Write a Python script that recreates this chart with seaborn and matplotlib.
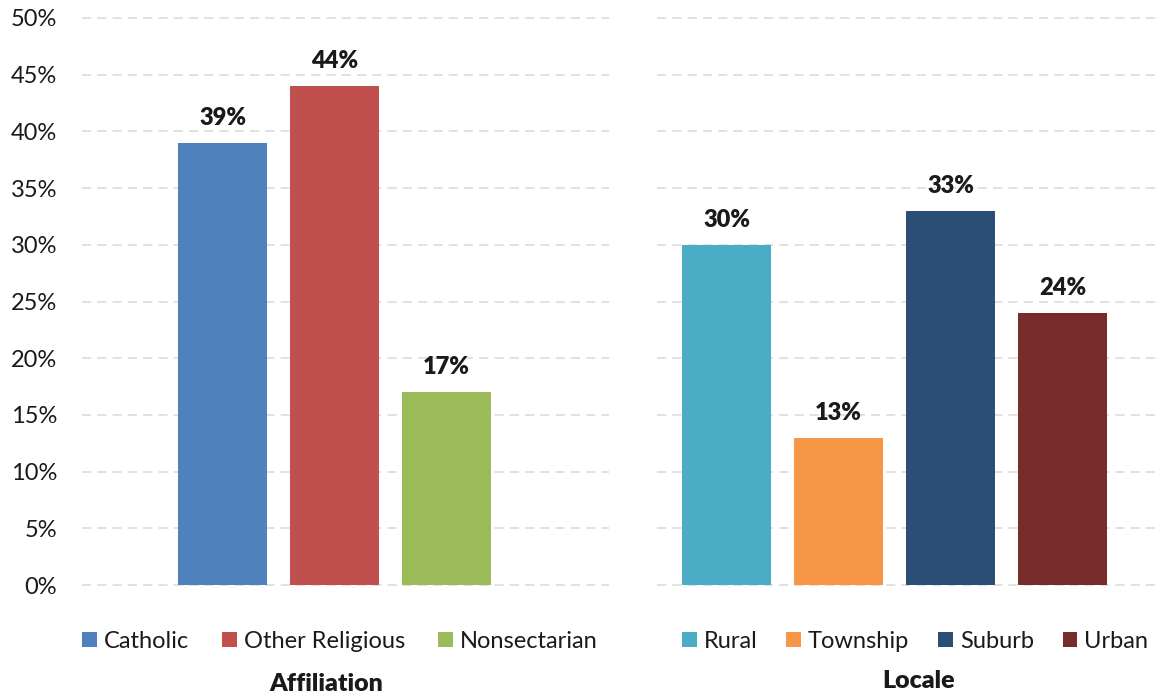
import matplotlib
matplotlib.use("Agg")
import matplotlib.pyplot as plt
from matplotlib.patches import Patch
import seaborn as sns
import pandas as pd

# Share of schools by affiliation and by locale (percent)
affiliation_labels = ["Catholic", "Other Religious", "Nonsectarian"]
affiliation_values = [39, 44, 17]
affiliation_colors = ["#4F81BD", "#C0504D", "#9BBB59"]

locale_labels = ["Rural", "Township", "Suburb", "Urban"]
locale_values = [30, 13, 33, 24]
locale_colors = ["#4BACC6", "#F79646", "#2C4D75", "#772C2A"]

y_ticks = [0, 5, 10, 15, 20, 25, 30, 35, 40, 45, 50]

sns.set_theme(style="white")
plt.rcParams["font.family"] = ["Lato", "DejaVu Sans"]
plt.rcParams["text.color"] = "#1a1a1a"

W, H = 1158, 695
fig = plt.figure(figsize=(W / 100, H / 100), dpi=100)


def px_axes(left, right, top, bottom):
    return fig.add_axes([left / W, 1 - bottom / H, (right - left) / W, (bottom - top) / H])


ax_left = px_axes(82, 609, 18, 585)
ax_right = px_axes(657, 1158, 18, 585)

slot = 112.0  # pixel distance between bar centres
bar_w = 89 / slot


def draw_panel(ax, labels, values, colors, first_center_px, left_px, right_px):
    df = pd.DataFrame({"category": labels, "share": values})
    sns.barplot(data=df, x="category", y="share", hue="category",
                palette=colors, saturation=1, width=bar_w, legend=False,
                order=labels, hue_order=labels, ax=ax, zorder=3,
                edgecolor="none", linewidth=0)
    ax.set_xlim(-(first_center_px - left_px) / slot, (right_px - first_center_px) / slot)
    ax.set_ylim(0, 50)
    ax.set_yticks(y_ticks)
    ax.grid(axis="y", color="#D9D9D9", linewidth=1.1, linestyle=(0, (6, 4)), zorder=0)
    for gl in ax.get_ygridlines():
        gl.set_clip_on(False)
    ax.set_axisbelow(True)
    ax.set_xticks([])
    ax.set_xlabel("")
    ax.set_ylabel("")
    for s in ax.spines.values():
        s.set_visible(False)
    ax.tick_params(axis="y", length=0, pad=18, labelsize=17, labelcolor="#1a1a1a")
    for cont, v in zip(ax.containers, values):
        ax.bar_label(cont, labels=[f"{v}%"], padding=10, fontsize=17,
                     fontweight="heavy", color="#1a1a1a")


draw_panel(ax_left, affiliation_labels, affiliation_values, affiliation_colors, 222.5, 82, 609)
draw_panel(ax_right, locale_labels, locale_values, locale_colors, 726.5, 657, 1158)

ax_left.set_yticklabels([f"{t}%" for t in y_ticks])
ax_right.set_yticklabels([])


def legend_row(labels, colors, left_px, spacing):
    handles = [Patch(facecolor=c, edgecolor="none") for c in colors]
    fig.legend(handles, labels, loc="center left", bbox_to_anchor=(left_px / W, 1 - 641 / H),
               ncol=len(labels), frameon=False, fontsize=17,
               handlelength=0.62, handleheight=0.62, handletextpad=0.3,
               columnspacing=spacing, borderaxespad=0, borderpad=0)


legend_row(affiliation_labels, affiliation_colors, 82, 1.4)
legend_row(locale_labels, locale_colors, 682, 1.22)

fig.text(326 / W, 1 - 684 / H, "Affiliation", ha="center", va="center",
         fontsize=18, fontweight="heavy")
fig.text(919 / W, 1 - 681 / H, "Locale", ha="center", va="center",
         fontsize=18, fontweight="heavy")

fig.savefig("out.png", dpi=100)
